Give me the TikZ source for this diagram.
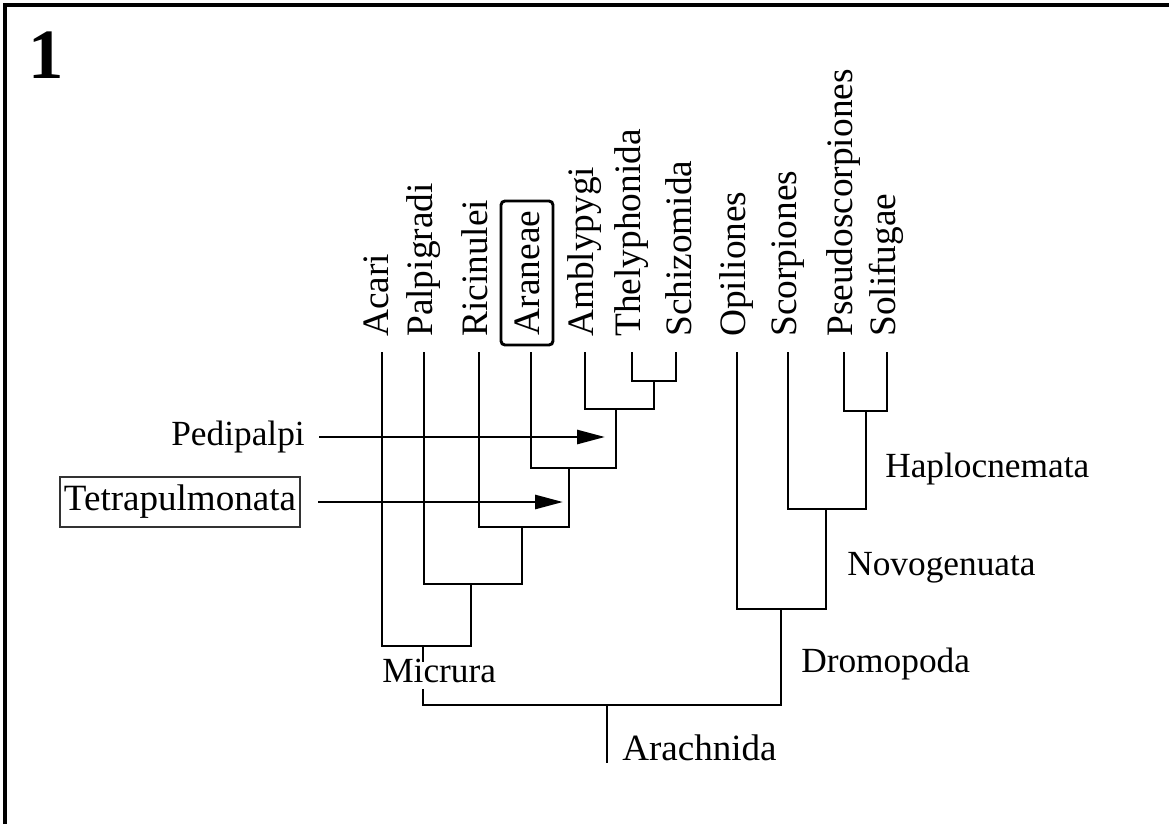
\documentclass[tikz,border=0pt]{standalone}
\usepackage{fontspec}
\setmainfont{Liberation Serif}
\usetikzlibrary{arrows.meta}
\begin{document}
\begin{tikzpicture}[x=0.75pt,y=-0.75pt,
  branch/.style={line width=2.1pt, line join=miter},
  leaf/.style={rotate=90, anchor=base west, inner sep=0pt, font=\fontsize{28}{32}\selectfont},
  clade/.style={anchor=base west, inner sep=0pt, font=\fontsize{26.5}{30}\selectfont},
  pointer/.style={line width=2.1pt, -{Triangle[length=21pt,width=10.5pt]}},
  framebox/.style={draw=black!80, line width=1pt, inner sep=0pt, minimum width=180pt, minimum height=37.5pt, font=\fontsize{27.8}{32}\selectfont},
  focusbox/.style={draw, line width=2.2pt, rounded corners=3pt, rotate=90, inner sep=0pt, minimum width=108pt, minimum height=39pt, font=\fontsize{28}{32}\selectfont}
]
\useasboundingbox (0,0) rectangle (1169,824);
% frame
\draw[line width=3pt, line join=miter] (5,824) -- (5,5.5) -- (1169,5.5);
\node[anchor=base west, inner sep=0pt, font=\fontsize{53}{60}\selectfont\bfseries] (num) at (28,79) {1};

% leaf tips
\coordinate (tAca) at (382,352);
\coordinate (tPal) at (424,352);
\coordinate (tRic) at (479,352);
\coordinate (tAra) at (531,352);
\coordinate (tAmb) at (585,352);
\coordinate (tThe) at (632,352);
\coordinate (tSch) at (676,352);
\coordinate (tOpi) at (737,352);
\coordinate (tSco) at (788,352);
\coordinate (tPse) at (844,352);
\coordinate (tSol) at (887,352);

% leaf labels
\node[leaf] (lAca) at (388,337) {Acari};
\node[leaf] (lPal) at (432,337) {Palpigradi};
\node[leaf] (lRic) at (487,337) {Ricinulei};
\node[focusbox] (lAra) at (527,273) {Araneae};
\node[leaf] (lAmb) at (593,337) {Amblypygi};
\node[leaf] (lThe) at (640,337) {Thelyphonida};
\node[leaf] (lSch) at (691,337) {Schizomida};
\node[leaf] (lOpi) at (745,337) {Opiliones};
\node[leaf] (lSco) at (796,337) {Scorpiones};
\node[leaf] (lPse) at (852,337) {Pseudoscorpiones};
\node[leaf] (lSol) at (895,337) {Solifugae};

% internal junctions (stem x, join y)
\coordinate (TS) at (654,381);
\coordinate (ATS) at (616,409);
\coordinate (Ped) at (569,468);
\coordinate (Tet) at (522,527);
\coordinate (PT) at (471,584);
\coordinate (Mic) at (423,646);
\coordinate (MicA) at (423,662);
\coordinate (MicB) at (423,689);
\coordinate (Root) at (607,705);
\coordinate (RootEnd) at (607,763);
\coordinate (Drom) at (781,609);
\coordinate (Novo) at (826,509);
\coordinate (Hap) at (866,411);

% branches
\draw[branch] (tThe) |- (TS) -| (tSch);
\draw[branch] (tAmb) |- (ATS) -| (TS);
\draw[branch] (tAra) |- (Ped) -| (ATS);
\draw[branch] (tRic) |- (Tet) -| (Ped);
\draw[branch] (tPal) |- (PT) -| (Tet);
\draw[branch] (tAca) |- (Mic) -| (PT);
\draw[branch] (Mic) -- (MicA);
\draw[branch] (MicB) |- (Root) -| (Drom);
\draw[branch] (Root) -- (RootEnd);
\draw[branch] (tOpi) |- (Drom) -| (Novo);
\draw[branch] (tSco) |- (Novo) -| (Hap);
\draw[branch] (tPse) |- (Hap) -| (tSol);

% clade labels
\node[clade] (cMic) at (382,682) {Micrura};
\node[clade, font=\fontsize{27.8}{32}\selectfont] (cAra) at (622,760) {Arachnida};
\node[clade] (cDro) at (801,672) {Dromopoda};
\node[clade] (cNov) at (847,575) {Novogenuata};
\node[clade] (cHap) at (885,477) {Haplocnemata};

% pointed clades
\node[anchor=base east, inner sep=0pt, font=\fontsize{26.5}{30}\selectfont] (pPed) at (305,445) {Pedipalpi};
\node[framebox] (pTet) at (180,502) {Tetrapulmonata};
\coordinate (aPed0) at (319,437);
\coordinate (aPed1) at (605,437);
\coordinate (aTet0) at (318,502);
\coordinate (aTet1) at (563,502);
\draw[pointer] (aPed0) -- (aPed1);
\draw[pointer] (aTet0) -- (aTet1);
\end{tikzpicture}
\end{document}
